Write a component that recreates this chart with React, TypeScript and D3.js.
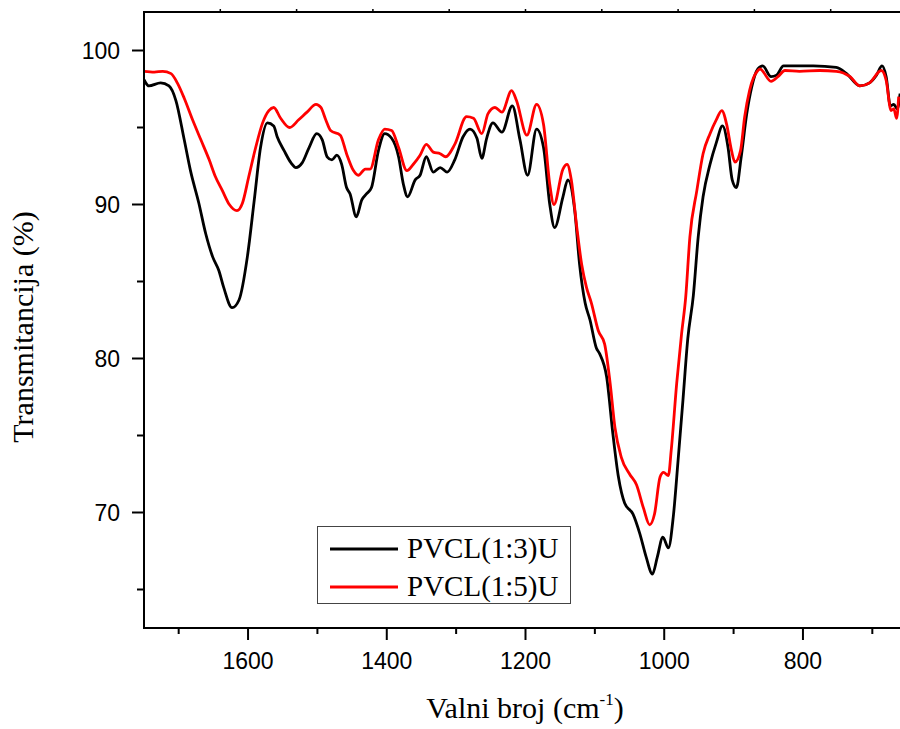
import React from "react";
import * as d3 from "d3";

// wavenumber (cm-1) / transmittance (%)
const blackWn = [1750, 1743, 1726, 1714, 1704, 1692, 1683, 1671, 1661, 1651, 1642, 1635, 1623, 1613, 1601, 1591, 1582, 1572, 1563, 1558, 1548, 1538, 1531, 1522, 1512, 1501, 1493, 1486, 1479, 1472, 1465, 1458, 1453, 1444, 1436, 1429, 1422, 1412, 1403, 1393, 1383, 1376, 1370, 1359, 1352, 1343, 1333, 1323, 1313, 1302, 1290, 1280, 1270, 1263, 1256, 1247, 1234, 1219, 1208, 1197, 1184, 1174, 1165, 1158, 1146, 1139, 1129, 1122, 1114, 1107, 1098, 1093, 1083, 1074, 1066, 1057, 1045, 1035, 1026, 1017, 1010, 1002, 994, 987, 980, 973, 966, 958, 951, 944, 934, 925, 916, 908, 902, 896, 889, 881, 874, 865, 858, 846, 838, 828, 809, 785, 752, 737, 718, 704, 694, 686, 680, 674, 669, 664, 660];
const blackT = [98.1, 97.7, 97.9, 97.7, 96.75, 94.2, 92.2, 90.1, 88.1, 86.6, 85.7, 84.6, 83.3, 83.8, 86.6, 90.3, 93.7, 95.3, 95.1, 94.4, 93.5, 92.7, 92.4, 92.7, 93.7, 94.6, 94.2, 93.1, 92.9, 93.2, 92.6, 91.1, 90.7, 89.2, 90.3, 90.7, 91.1, 93.5, 94.6, 94.3, 93.1, 91.3, 90.5, 91.6, 91.9, 93.1, 92.1, 92.4, 92.1, 92.9, 94.4, 94.9, 94.3, 93.0, 94.3, 95.3, 94.7, 96.4, 94.2, 91.9, 94.9, 93.7, 90.0, 88.5, 90.5, 91.6, 89.6, 86.1, 83.6, 82.5, 80.7, 80.3, 78.8, 75.1, 72.3, 70.6, 69.9, 68.6, 67.1, 66.0, 67.1, 68.4, 67.7, 69.7, 73.4, 77.3, 81.3, 84.1, 87.9, 90.5, 92.6, 94.0, 95.1, 93.7, 91.6, 91.1, 93.1, 95.9, 97.6, 98.8, 99.0, 98.3, 98.4, 99.0, 99.0, 99.0, 98.9, 98.5, 97.7, 97.9, 98.4, 99.0, 98.3, 96.4, 96.5, 96.2, 97.2];

const redWn = [1750, 1735, 1723, 1711, 1702, 1692, 1680, 1668, 1656, 1647, 1637, 1627, 1616, 1608, 1599, 1589, 1579, 1570, 1563, 1553, 1540, 1527, 1515, 1502, 1495, 1488, 1481, 1467, 1458, 1448, 1441, 1431, 1424, 1412, 1403, 1393, 1383, 1371, 1362, 1352, 1343, 1333, 1323, 1315, 1302, 1285, 1275, 1263, 1254, 1244, 1234, 1220, 1213, 1198, 1184, 1174, 1165, 1159, 1146, 1140, 1134, 1126, 1119, 1112, 1105, 1095, 1086, 1078, 1071, 1062, 1050, 1040, 1030, 1021, 1014, 1006, 1001, 994, 990, 982, 975, 969, 963, 953, 944, 934, 925, 917, 910, 903, 898, 890, 884, 877, 865, 862, 846, 836, 826, 805, 776, 752, 732, 718, 704, 687, 680, 673, 669, 665, 662];
const redT = [98.65, 98.6, 98.65, 98.5, 97.9, 96.9, 95.5, 94.2, 92.9, 91.8, 90.9, 90.0, 89.6, 90.1, 91.8, 93.7, 95.3, 96.1, 96.3, 95.6, 95.0, 95.5, 96.0, 96.5, 96.3, 95.5, 94.8, 94.5, 93.3, 92.2, 91.9, 92.3, 92.3, 94.2, 94.9, 94.8, 93.7, 92.2, 92.6, 93.2, 93.9, 93.4, 93.3, 93.1, 93.9, 95.7, 95.6, 94.6, 95.9, 96.3, 96.0, 97.4, 96.75, 94.5, 96.5, 95.2, 91.3, 90.0, 92.3, 92.6, 91.6, 88.5, 86.1, 84.6, 83.6, 81.8, 80.95, 78.4, 75.5, 73.6, 72.5, 71.8, 70.3, 69.2, 69.9, 72.3, 72.6, 72.4, 74.0, 78.4, 81.6, 84.0, 87.9, 90.9, 93.3, 94.6, 95.5, 96.1, 95.2, 93.5, 92.75, 93.5, 95.7, 97.4, 98.7, 98.8, 98.0, 98.3, 98.7, 98.65, 98.7, 98.65, 98.3, 97.7, 97.9, 98.7, 98.05, 96.1, 96.2, 95.6, 97.0];

const seriesNames = ["PVCL(1:3)U", "PVCL(1:5)U"];
const seriesColors = ["#000000", "#ff0000"];
const xMajor = [1600, 1400, 1200, 1000, 800];
const xMinor = [1700, 1500, 1300, 1100, 900, 700];
const yMajor = [100, 90, 80, 70];
const yMinor = [95, 85, 75, 65];

const W = 900;
const H = 729;
const left = 144, right = 907, top = 12, bottom = 628;

export default function App() {
  const x = d3.scaleLinear().domain([1750, 650]).range([left, right]);
  const y = d3.scaleLinear().domain([62.5, 102.5]).range([bottom, top]);

  const line = d3
    .line<[number, number]>()
    .x((d) => x(d[0]))
    .y((d) => y(d[1]))
    .curve(d3.curveMonotoneX);

  const series = [
    blackWn.map((w, i) => [w, blackT[i]] as [number, number]),
    redWn.map((w, i) => [w, redT[i]] as [number, number]),
  ];

  // top axis has 10 equal divisions, unlabeled
  const topTicks = d3.range(1, 10).map((k) => left + ((right - left) * k) / 10);

  const sans = "Arial, 'Liberation Sans', sans-serif";
  const serif = "'Times New Roman', 'Liberation Serif', serif";

  return (
    <svg
      width={W}
      height={H}
      style={{ position: "fixed", left: 0, top: 0, background: "#fff" }}
    >
      <defs>
        <clipPath id="plot">
          <rect x={left} y={top} width={right - left} height={bottom - top} />
        </clipPath>
      </defs>

      {/* curves */}
      <g clipPath="url(#plot)">
        {series.map((s, i) => (
          <path
            key={i}
            d={line(s) ?? ""}
            fill="none"
            stroke={seriesColors[i]}
            strokeWidth={2.8}
            strokeLinejoin="round"
          />
        ))}
      </g>

      {/* frame */}
      <path
        d={`M${right},${top}H${left}V${bottom}H${right}`}
        fill="none"
        stroke="#000"
        strokeWidth={2}
      />

      {/* x ticks */}
      {xMajor.map((v) => (
        <g key={v}>
          <line x1={x(v)} x2={x(v)} y1={bottom} y2={bottom + 12} stroke="#000" strokeWidth={2} />
          <text
            x={x(v)}
            y={669}
            textAnchor="middle"
            fontFamily={sans}
            fontSize={23}
          >
            {v}
          </text>
        </g>
      ))}
      {xMinor.map((v) => (
        <line key={v} x1={x(v)} x2={x(v)} y1={bottom} y2={bottom + 6} stroke="#000" strokeWidth={2} />
      ))}
      {topTicks.map((px, i) => (
        <line key={i} x1={px} x2={px} y1={top} y2={top - 3} stroke="#000" strokeWidth={1.5} />
      ))}

      {/* y ticks */}
      {yMajor.map((v) => (
        <g key={v}>
          <line x1={left} x2={left - 12} y1={y(v)} y2={y(v)} stroke="#000" strokeWidth={2} />
          <text
            x={120}
            y={y(v)}
            dy="0.36em"
            textAnchor="end"
            fontFamily={sans}
            fontSize={23}
          >
            {v}
          </text>
        </g>
      ))}
      {yMinor.map((v) => (
        <line key={v} x1={left} x2={left - 7} y1={y(v)} y2={y(v)} stroke="#000" strokeWidth={2} />
      ))}

      {/* axis titles */}
      <text x={525} y={718} textAnchor="middle" fontFamily={serif} fontSize={30}>
        Valni broj (cm
        <tspan fontSize={17} dy={-13}>-1</tspan>
        <tspan dy={13}>)</tspan>
      </text>
      <text
        transform="translate(33,327) rotate(-90)"
        textAnchor="middle"
        fontFamily={serif}
        fontSize={30}
      >
        Transmitancija (%)
      </text>

      {/* legend */}
      <rect x={317.5} y={526.5} width={253} height={77} fill="#fff" stroke="#444" strokeWidth={1} />
      {seriesNames.map((name, i) => (
        <g key={name}>
          <line
            x1={330}
            x2={398}
            y1={549 + i * 38}
            y2={549 + i * 38}
            stroke={seriesColors[i]}
            strokeWidth={2.8}
          />
          <text x={407} y={558 + i * 38} fontFamily={serif} fontSize={29}>
            {name}
          </text>
        </g>
      ))}
    </svg>
  );
}
